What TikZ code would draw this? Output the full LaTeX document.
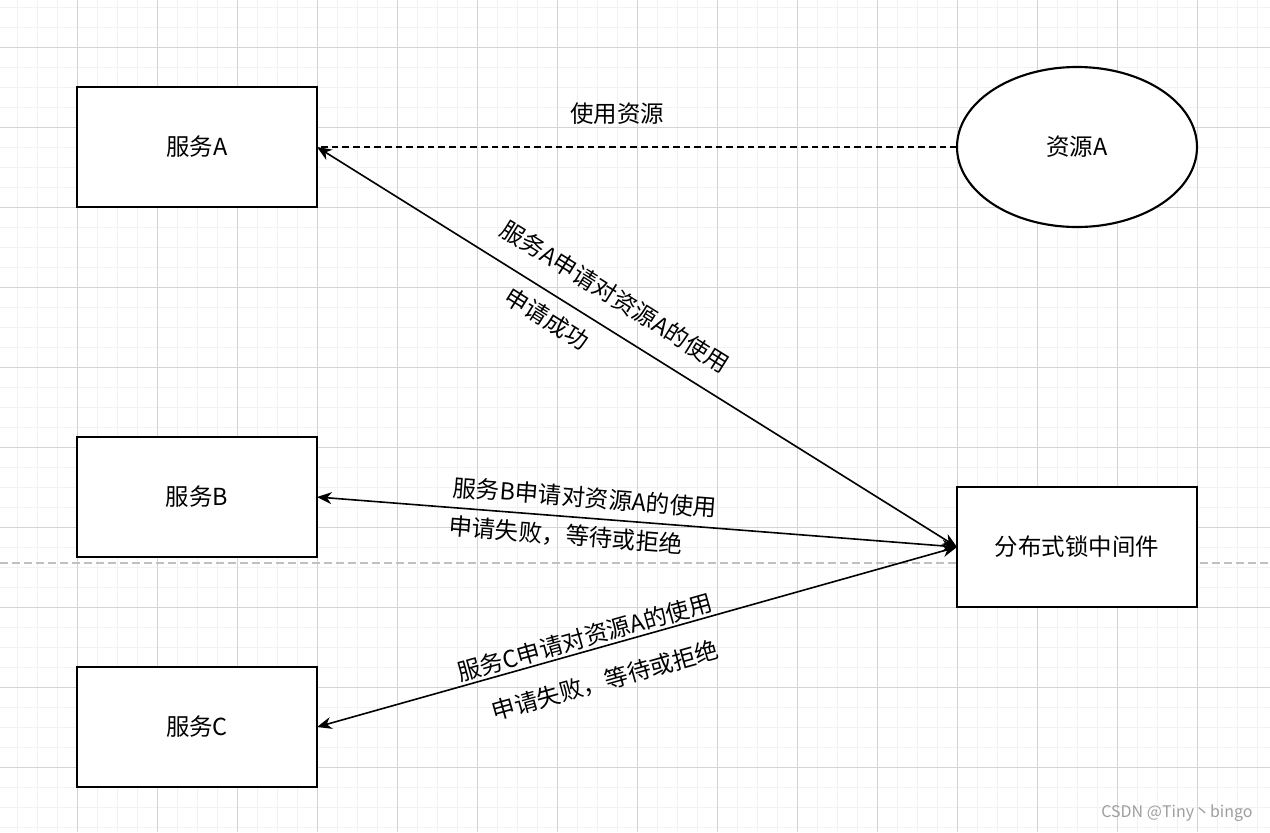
\documentclass[tikz,border=0pt]{standalone}
\usepackage{fontspec}
\setmainfont{Noto Sans CJK SC}
\usepackage{xcolor}
\usetikzlibrary{positioning,shapes.geometric,arrows.meta}

\definecolor{gridminor}{HTML}{F2F2F2}
\definecolor{gridmajor}{HTML}{D4D4D4}
\definecolor{pagebreak}{HTML}{C0C0C0}

\tikzset{
    box/.style={draw, rectangle, line width=1.6pt, fill=white, minimum width=180pt, minimum height=90pt, inner sep=0pt, outer sep=0pt, font=\fontsize{17.6}{21}\selectfont},
    store/.style={draw, ellipse, line width=1.6pt, fill=white, minimum width=180pt, minimum height=120pt, inner sep=0pt, outer sep=0pt, font=\fontsize{17.6}{21}\selectfont},
    link/.style={line width=1.2pt, {Stealth[length=11pt,width=9pt,inset=3.5pt]}-{Stealth[length=11pt,width=9pt,inset=3.5pt]}},
    lbl/.style={sloped, inner sep=0pt, font=\fontsize{17.6}{21}\selectfont},
}

\begin{document}
\begin{tikzpicture}[x=0.75pt, y=-0.75pt, node distance=172.5pt and 480pt]
    \useasboundingbox (0,0) rectangle (1270,832);
    \fill[white] (0,0) rectangle (1270,832);
    % background grid
    \foreach \x in {17,37,...,1257} \draw[gridminor, line width=0.75pt] (\x,0) -- (\x,832);
    \foreach \y in {7,27,...,827} \draw[gridminor, line width=0.75pt] (0,\y) -- (1270,\y);
    \foreach \x in {77,157,...,1197} \draw[gridmajor, line width=0.75pt] (\x,0) -- (\x,832);
    \foreach \y in {47,127,...,767} \draw[gridmajor, line width=0.75pt] (0,\y) -- (1270,\y);
    \draw[pagebreak, line width=1.1pt, dash pattern=on 6pt off 3pt] (0,563) -- (1270,563);

    \node[box] (SA) at (197,147) {服务A};
    \node[box, below=of SA] (SB) {服务B};
    \node[box, below=82.5pt of SB] (SC) {服务C};
    \node[store, right=of SA] (RA) {资源A};
    \node[box, below=195pt of RA] (MW) {分布式锁中间件};

    \draw[line width=1.2pt, dash pattern=on 5pt off 3pt] (RA.west) -- node[pos=0.531, above=16.5pt, inner sep=0pt, font=\fontsize{17.6}{21}\selectfont] {使用资源} (SA.east);
    \draw[link] (SA.east) -- node[lbl, pos=0.440, above=14.5pt] {服务A申请对资源A的使用} node[lbl, pos=0.379, below=9pt] {申请成功} (MW.west);
    \draw[link] (SB.east) -- node[lbl, pos=0.416, above=6.5pt] {服务B申请对资源A的使用} node[lbl, pos=0.391, below=5pt] {申请失败，等待或拒绝} (MW.west);
    \draw[link] (SC.east) -- node[lbl, pos=0.424, above=1.5pt] {服务C申请对资源A的使用} node[lbl, pos=0.436, below=16pt] {申请失败，等待或拒绝} (MW.west);

    \node[text=black!38, font=\fontsize{12}{14}\selectfont] (mark) at (1177,813) {CSDN @Tiny丶bingo};
\end{tikzpicture}
\end{document}
